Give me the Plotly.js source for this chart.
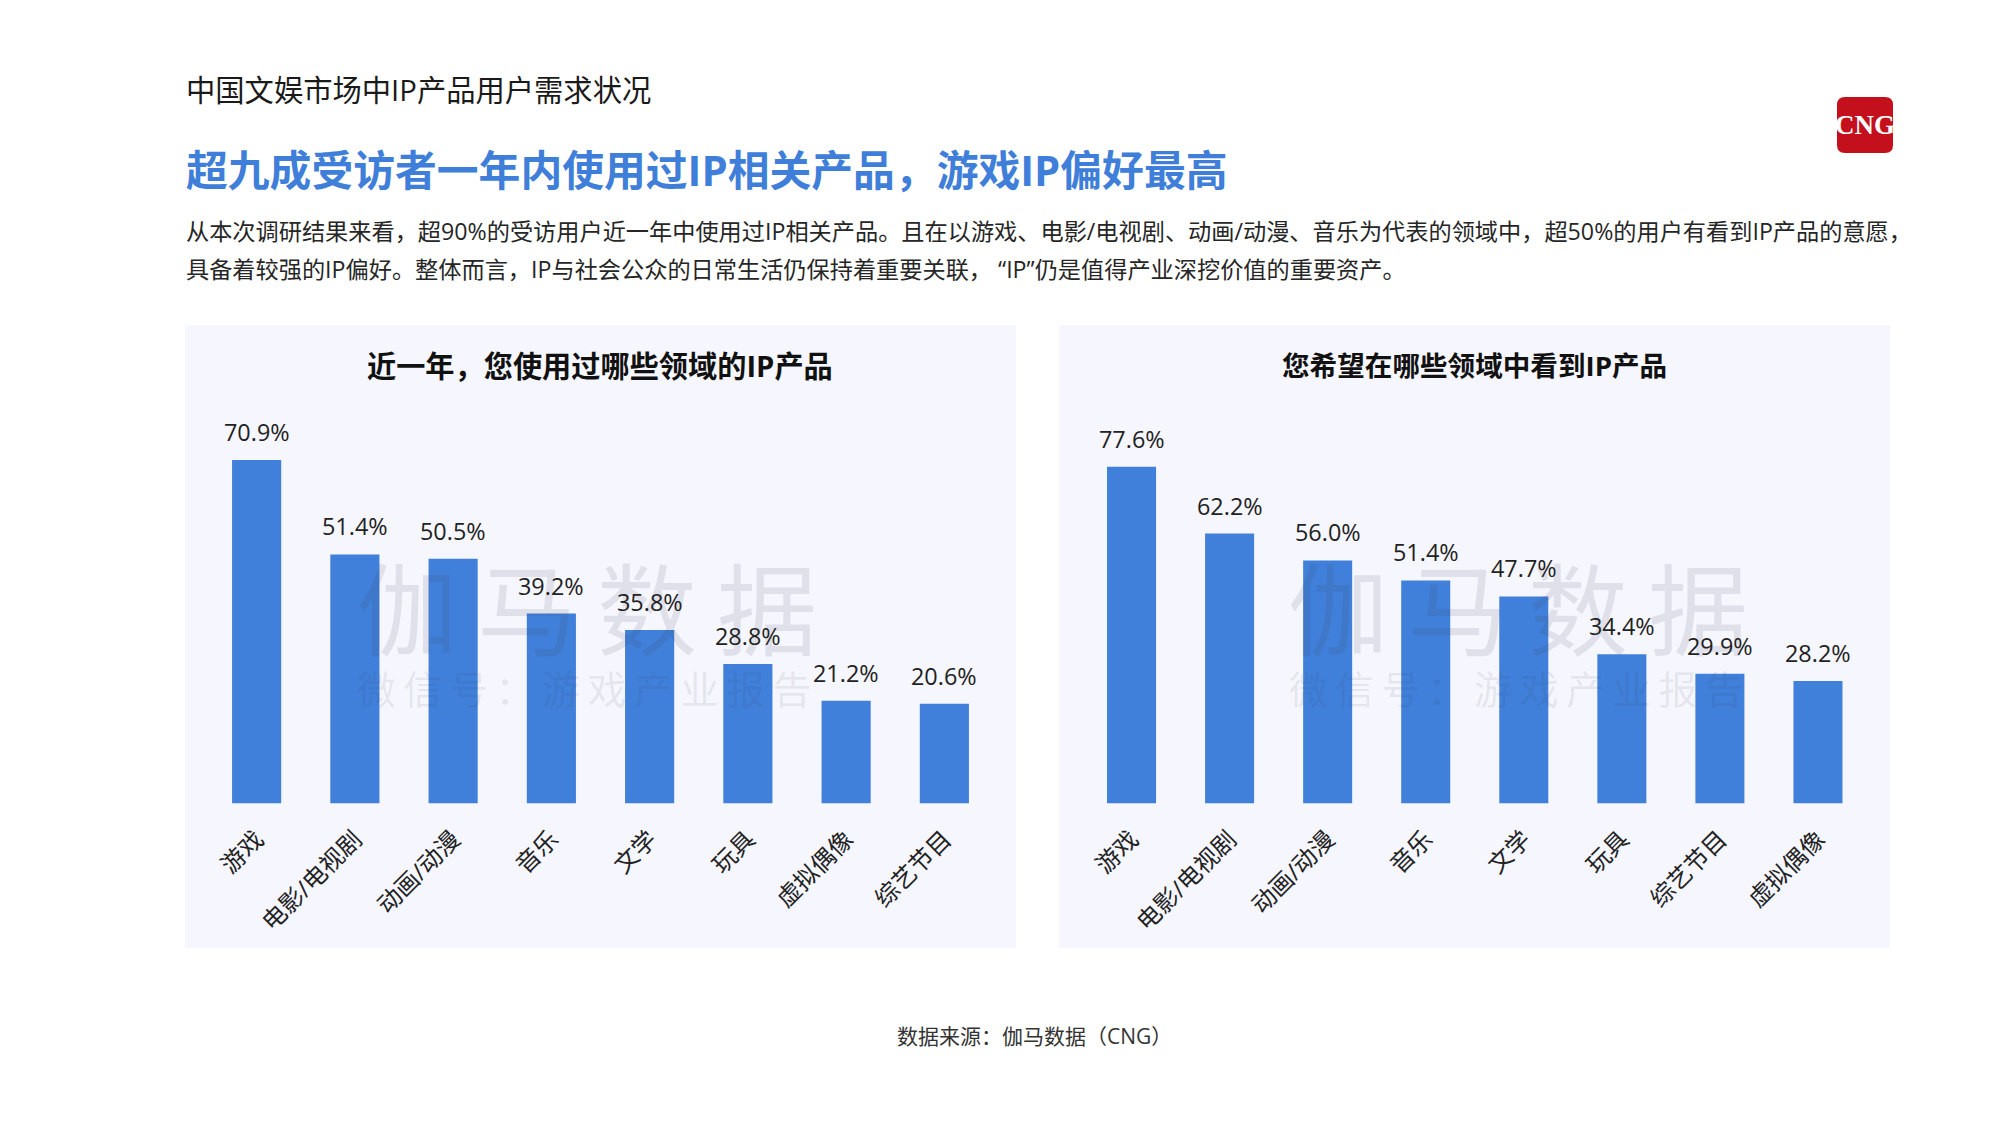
<!DOCTYPE html>
<html>
<head>
<meta charset="utf-8">
<script src="https://cdn.plot.ly/plotly-3.0.1.min.js"></script>
<style>html,body{margin:0;padding:0;background:#fff}#c{width:2000px;height:1125px}</style>
</head>
<body>
<div id="c"></div>
<script>
const headerText = "中国文娱市场中IP产品用户需求状况";
const titleText = "超九成受访者一年内使用过IP相关产品，游戏IP偏好最高";
const bodyLine1 = "从本次调研结果来看，超90%的受访用户近一年中使用过IP相关产品。且在以游戏、电影/电视剧、动画/动漫、音乐为代表的领域中，超50%的用户有看到IP产品的意愿，";
const bodyLine2 = "具备着较强的IP偏好。整体而言，IP与社会公众的日常生活仍保持着重要关联， “IP”仍是值得产业深挖价值的重要资产。";
const sourceText = "数据来源：伽马数据（CNG）";
const leftTitle = "近一年，您使用过哪些领域的IP产品";
const rightTitle = "您希望在哪些领域中看到IP产品";
const leftCategories = ["游戏","电影/电视剧","动画/动漫","音乐","文学","玩具","虚拟偶像","综艺节目"];
const leftValues = [70.9,51.4,50.5,39.2,35.8,28.8,21.2,20.6];
const rightCategories = ["游戏","电影/电视剧","动画/动漫","音乐","文学","玩具","综艺节目","虚拟偶像"];
const rightValues = [77.6,62.2,56.0,51.4,47.7,34.4,29.9,28.2];

const FONT = '"Open Sans","Noto Sans CJK SC",sans-serif';
const CJK = '"Noto Sans CJK SC","Open Sans",sans-serif';
const W = 2000, H = 1125;
const px = v => v / W, py = v => 1 - v / H;
const BLUE = "#4080da", INK = "#222222", PANEL = "#f6f7fe";

function bar(x, y, xa, ya) {
  return {type:"bar", x, y, xaxis:xa, yaxis:ya, width:0.5,
    marker:{color:BLUE}, hoverinfo:"skip", showlegend:false};
}
function axisX(domain, anchor) {
  return {domain:[px(domain[0]),px(domain[1])], anchor, type:"category", tickangle:-45,
    showgrid:false, showline:false, zeroline:false, ticks:"", ticklabelstandoff:16,
    tickfont:{family:FONT, size:24, color:INK}, automargin:false, fixedrange:true};
}
function axisY(top, bottom, range, anchor) {
  return {domain:[py(bottom),py(top)], anchor, range, visible:false, fixedrange:true};
}
function note(text, x, y, size, color, opts) {
  return Object.assign({text, xref:"paper", yref:"paper", x:px(x), y:py(y),
    xanchor:"left", yanchor:"middle", showarrow:false,
    font:{family:FONT, size, color}}, opts||{});
}
function valueNotes(cats, vals, xr, yr) {
  return cats.map((c,i)=>({text:vals[i].toFixed(1)+"%", x:c, y:vals[i], xref:xr, yref:yr,
    showarrow:false, yanchor:"bottom", xanchor:"center", yshift:10,
    font:{family:FONT, size:23.4, color:INK}}));
}
const thin = s => s.split("").join("\u2009");
const MARK1 = "rgba(60,60,80,0.12)", MARK2 = "rgba(60,60,80,0.10)";
const mark = (text,x,y,size,color) => note(thin(text),x,y,size,color,{xanchor:"center",font:{family:CJK,size,color}});

const annotations = [
  note(headerText,184,90,29.3,"#1a1a1a"),
  note("<b>"+titleText+"</b>",184,170,41.8,"#3f7fd9"),
  note(bodyLine1,184,231,23.2,"#262626"),
  note(bodyLine2,184,269,23.2,"#262626"),
  note("<b>"+leftTitle+"</b>",600,366,29.2,"#111",{xanchor:"center"}),
  note("<b>"+rightTitle+"</b>",1474,365,27.6,"#111",{xanchor:"center"}),
  note(sourceText,1034,1036,21,"#333",{xanchor:"center"}),
  mark("伽马数据",587,604,100,MARK1),
  mark("微信号：游戏产业报告",584,687,38.5,MARK2),
  mark("伽马数据",1518,604,100,MARK1),
  mark("微信号：游戏产业报告",1516,687,38.5,MARK2),
  note("<b>CNG</b>",1865,125,27,"#ffffff",{xanchor:"center",font:{family:'"Liberation Serif",serif',size:27,color:"#fff"}})
].concat(valueNotes(leftCategories,leftValues,"x","y"), valueNotes(rightCategories,rightValues,"x2","y2"));

function panel(x0,x1,y0,y1){
  return {type:"rect",xref:"paper",yref:"paper",x0:px(x0),x1:px(x1),y0:py(y1),y1:py(y0),
    fillcolor:PANEL,line:{width:0},layer:"below"};
}
function logo(x0,x1,y0,y1,r){
  const X=px, Y=py;
  const path=`M ${X(x0+r)} ${Y(y0)} L ${X(x1-r)} ${Y(y0)} Q ${X(x1)} ${Y(y0)} ${X(x1)} ${Y(y0+r)} L ${X(x1)} ${Y(y1-r)} Q ${X(x1)} ${Y(y1)} ${X(x1-r)} ${Y(y1)} L ${X(x0+r)} ${Y(y1)} Q ${X(x0)} ${Y(y1)} ${X(x0)} ${Y(y1-r)} L ${X(x0)} ${Y(y0+r)} Q ${X(x0)} ${Y(y0)} ${X(x0+r)} ${Y(y0)} Z`;
  return {type:"path",xref:"paper",yref:"paper",path,fillcolor:"#c40f1c",line:{width:0},layer:"below"};
}

const data = [
  bar(leftCategories,leftValues,"x","y"),
  bar(rightCategories,rightValues,"x2","y2")
];
const layout = {
  width:W, height:H, margin:{l:0,r:0,t:0,b:0}, paper_bgcolor:"#fff", plot_bgcolor:"rgba(0,0,0,0)",
  showlegend:false, font:{family:FONT},
  xaxis:axisX([207.5,993.5],"y"),
  yaxis:axisY(415.9,803.5,[0,80],"x"),
  xaxis2:axisX([1082.5,1867],"y2"),
  yaxis2:axisY(412.9,803.5,[0,90],"x2"),
  shapes:[panel(185,1016,325,948),panel(1059,1890,325,948),logo(1837,1893,97,153,8)],
  annotations
};
Plotly.newPlot("c",data,layout,{displayModeBar:false,staticPlot:true});
</script>
</body>
</html>
